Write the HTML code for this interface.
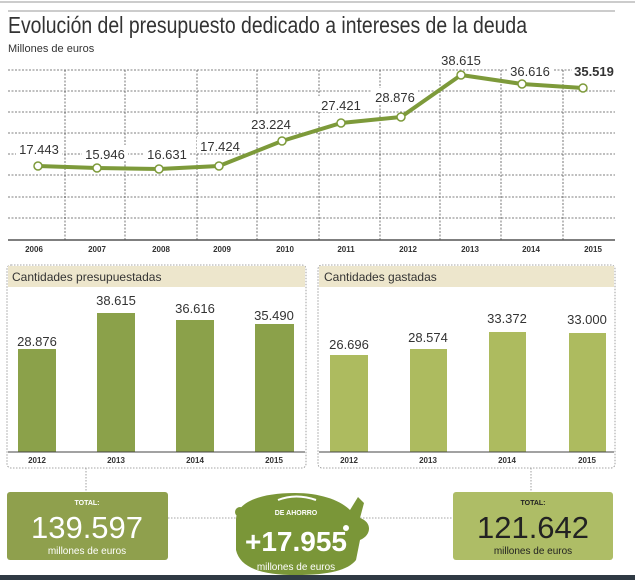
<!DOCTYPE html>
<html><head><meta charset="utf-8"><style>
html,body{margin:0;padding:0;background:#fff}
svg{display:block}
text{font-family:"Liberation Sans",sans-serif}
</style></head><body>
<svg width="635" height="580" viewBox="0 0 635 580" xmlns="http://www.w3.org/2000/svg">
<rect width="635" height="580" fill="#fff"/>
<line x1="0" y1="2" x2="635" y2="2" stroke="#ccc" stroke-width="2"/>
<line x1="8" y1="11" x2="615" y2="11" stroke="#999" stroke-width="1"/>
<text x="8" y="33" font-size="23" fill="#333" textLength="519" lengthAdjust="spacingAndGlyphs">Evolución del presupuesto dedicado a intereses de la deuda</text>
<text x="8" y="52" font-size="11" fill="#333">Millones de euros</text>
<g stroke="#555" stroke-width="0.8" stroke-dasharray="2,1.5">
<line x1="8" y1="70" x2="615" y2="70"/><line x1="8" y1="91" x2="615" y2="91"/>
<line x1="8" y1="112" x2="615" y2="112"/><line x1="8" y1="133" x2="615" y2="133"/>
<line x1="8" y1="154" x2="615" y2="154"/><line x1="8" y1="175" x2="615" y2="175"/>
<line x1="8" y1="197" x2="615" y2="197"/><line x1="8" y1="218" x2="615" y2="218"/>
<line x1="65" y1="70" x2="65" y2="240"/><line x1="125" y1="70" x2="125" y2="240"/>
<line x1="197" y1="70" x2="197" y2="240"/><line x1="257" y1="70" x2="257" y2="240"/>
<line x1="319" y1="70" x2="319" y2="240"/><line x1="380" y1="70" x2="380" y2="240"/>
<line x1="440" y1="70" x2="440" y2="240"/><line x1="501" y1="70" x2="501" y2="240"/>
<line x1="563" y1="70" x2="563" y2="240"/>
</g>
<line x1="8" y1="240" x2="615" y2="240" stroke="#555" stroke-width="1.5"/>
<g font-size="8" font-weight="bold" fill="#333" text-anchor="middle">
<text x="34" y="252">2006</text><text x="97" y="252">2007</text><text x="161" y="252">2008</text>
<text x="222" y="252">2009</text><text x="285" y="252">2010</text><text x="346" y="252">2011</text>
<text x="408" y="252">2012</text><text x="470" y="252">2013</text><text x="531" y="252">2014</text>
<text x="593" y="252">2015</text>
</g>
<g font-size="13" fill="#333" text-anchor="middle">
<rect x="16" y="140" width="46" height="16" fill="#fff"/><text x="39" y="154">17.443</text>
<rect x="82" y="145" width="46" height="16" fill="#fff"/><text x="105" y="159">15.946</text>
<rect x="144" y="145" width="46" height="16" fill="#fff"/><text x="167" y="159">16.631</text>
<rect x="197" y="137" width="46" height="16" fill="#fff"/><text x="220" y="151">17.424</text>
<rect x="248" y="115" width="46" height="16" fill="#fff"/><text x="271" y="129">23.224</text>
<rect x="318" y="96" width="46" height="16" fill="#fff"/><text x="341" y="110">27.421</text>
<rect x="372" y="88" width="46" height="16" fill="#fff"/><text x="395" y="102">28.876</text>
<text x="461" y="65">38.615</text>
<rect x="507" y="63" width="46" height="16" fill="#fff"/><text x="530" y="76">36.616</text>
<rect x="572" y="63" width="44" height="16" fill="#fff"/><text x="594" y="76" font-weight="bold">35.519</text>
</g>
<polyline points="38,166 97,168 159,169 219,166 282,141 341,123 401,117 461,75 522,84 583,88" fill="none" stroke="#7d9a3a" stroke-width="4" stroke-linejoin="round"/>
<g fill="#fff" stroke="#7d9a3a" stroke-width="1.5">
<circle cx="38" cy="166" r="4"/><circle cx="97" cy="168" r="4"/><circle cx="159" cy="169" r="4"/>
<circle cx="219" cy="166" r="4"/><circle cx="282" cy="141" r="4"/><circle cx="341" cy="123" r="4"/>
<circle cx="401" cy="117" r="4"/><circle cx="461" cy="75" r="4"/><circle cx="522" cy="84" r="4"/>
<circle cx="583" cy="88" r="4"/>
</g>
<!-- panels -->
<g stroke="#888" stroke-width="0.8" stroke-dasharray="1.5,1.5" fill="none">
<rect x="7" y="265" width="299" height="203" rx="4"/>
<rect x="318" y="265" width="297" height="203" rx="4"/>
<line x1="86" y1="468" x2="86" y2="518"/><line x1="531" y1="468" x2="531" y2="518"/>
<line x1="168" y1="518" x2="240" y2="518"/><line x1="360" y1="518" x2="453" y2="518"/>
</g>
<rect x="8" y="266" width="297" height="21" fill="#ede6cc"/>
<rect x="319" y="266" width="295" height="21" fill="#ede6cc"/>
<text x="12" y="281" font-size="12" fill="#333">Cantidades presupuestadas</text>
<text x="324" y="281" font-size="12" fill="#333">Cantidades gastadas</text>
<g fill="#8ba14a">
<rect x="18" y="349" width="38" height="103"/><rect x="97" y="313" width="38" height="139"/>
<rect x="176" y="320" width="38" height="132"/><rect x="255" y="324" width="39" height="128"/>
</g>
<g fill="#adbb5f">
<rect x="330" y="355" width="38" height="97"/><rect x="410" y="349" width="37" height="103"/>
<rect x="489" y="332" width="37" height="120"/><rect x="569" y="333" width="37" height="119"/>
</g>
<line x1="8" y1="452" x2="305" y2="452" stroke="#444" stroke-width="1"/>
<line x1="319" y1="452" x2="614" y2="452" stroke="#444" stroke-width="1"/>
<g font-size="13" fill="#333" text-anchor="middle">
<text x="37" y="356" dy="-10">28.876</text><text x="116" y="305">38.615</text>
<text x="195" y="313">36.616</text><text x="274" y="330" dy="-10">35.490</text>
<text x="349" y="349">26.696</text><text x="428" y="342">28.574</text>
<text x="507" y="333" dy="-10">33.372</text><text x="587" y="334" dy="-10">33.000</text>
</g>
<g font-size="8" font-weight="bold" fill="#333" text-anchor="middle">
<text x="37" y="463">2012</text><text x="116" y="463">2013</text><text x="195" y="463">2014</text><text x="274" y="463">2015</text>
<text x="349" y="463">2012</text><text x="428" y="463">2013</text><text x="507" y="463">2014</text><text x="587" y="463">2015</text>
</g>
<!-- totals -->
<rect x="7" y="492" width="161" height="68" rx="3" fill="#8fa04d"/>
<text x="87" y="505" font-size="7" font-weight="bold" fill="#fff" text-anchor="middle">TOTAL:</text>
<text x="87" y="538" font-size="31" fill="#fff" text-anchor="middle">139.597</text>
<text x="87" y="554" font-size="10" fill="#fff" text-anchor="middle">millones de euros</text>
<rect x="453" y="492" width="160" height="68" rx="3" fill="#aebd66"/>
<text x="533" y="505" font-size="7" font-weight="bold" fill="#222" text-anchor="middle">TOTAL:</text>
<text x="533" y="538" font-size="31" fill="#222" text-anchor="middle">121.642</text>
<text x="533" y="554" font-size="10" fill="#222" text-anchor="middle">millones de euros</text>
<!-- pig -->
<path d="M236,520 C236,503 258,493 295,493 C320,493 340,500 350,510 L358,497 L364,503 L360,518 C372,522 372,535 360,540 L356,560 C348,570 330,575 296,575 C262,575 240,568 236,550 Z" fill="#7a9638"/>
<circle cx="240" cy="512" r="5" fill="#7a9638"/>
<path d="M278,500 Q296,493 316,500" stroke="#fff" stroke-width="2" fill="none"/>
<circle cx="346" cy="528" r="3" fill="#fff"/>
<text x="296" y="515" font-size="7" font-weight="bold" fill="#fff" text-anchor="middle">DE AHORRO</text>
<text x="296" y="551" font-size="28" font-weight="bold" fill="#fff" text-anchor="middle">+17.955</text>
<text x="296" y="570" font-size="10" fill="#fff" text-anchor="middle">millones de euros</text>
<rect x="0" y="575" width="635" height="5" fill="#2f3a44"/>
</svg>
</body></html>
